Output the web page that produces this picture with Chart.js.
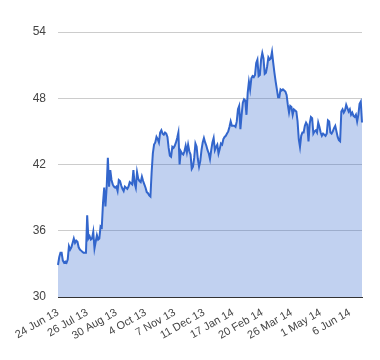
<!DOCTYPE html>
<html>
<head>
<meta charset="utf-8">
<script src="https://cdn.jsdelivr.net/npm/chart.js@4/dist/chart.umd.min.js"></script>
<style>
html,body{margin:0;padding:0;background:#fff;}
#wrap{width:380px;height:360px;}
</style>
</head>
<body>
<div id="wrap"><canvas id="c" width="380" height="360"></canvas></div>
<script>
const tickLabels = ['24 Jun 13','26 Jul 13','30 Aug 13','4 Oct 13','7 Nov 13','11 Dec 13','17 Jan 14','20 Feb 14','26 Mar 14','1 May 14','6 Jun 14'];
const tickStep = 24;
const yTicks = [30, 36, 42, 48, 54];
const values = [
32.9,33.6,34.0,34.0,33.3,33.1,33.2,33.1,33.4,34.6,
34.3,34.5,34.9,35.3,34.9,35.1,35.0,34.5,34.3,34.2,
34.1,34.0,34.0,34.0,37.4,35.3,35.5,35.2,35.3,35.9,
34.4,35.0,35.6,35.2,35.3,36.4,36.3,38.5,39.9,38.2,
39.9,42.6,40.0,41.5,40.6,40.2,40.0,39.9,40.0,39.6,
40.6,40.5,40.1,39.8,39.6,40.0,39.9,39.8,40.0,40.4,
40.3,40.2,41.5,40.3,39.9,41.3,40.7,40.5,40.4,40.9,
40.5,40.2,39.9,39.5,39.4,39.2,39.1,41.3,43.0,43.8,
44.0,44.5,44.3,44.0,44.9,45.1,44.8,44.7,44.9,44.8,
44.5,43.5,42.8,42.7,43.6,43.5,43.7,44.0,44.4,44.9,
42.0,43.2,43.0,42.9,43.2,43.7,43.1,43.8,43.2,42.9,
41.6,41.8,42.6,43.9,43.6,42.5,41.8,42.3,43.3,44.0,
44.4,44.0,43.7,43.3,43.0,42.5,43.3,44.0,44.4,43.3,
43.6,43.8,43.0,43.4,43.9,43.8,44.3,44.5,44.6,44.8,
45.0,45.4,45.9,45.5,45.5,45.5,45.4,45.9,47.0,47.3,
45.2,46.5,47.6,47.9,47.8,46.5,48.5,49.5,48.8,49.8,
50.0,49.9,50.1,51.2,51.5,50.0,50.1,51.5,52.1,51.6,
50.2,50.3,50.9,51.7,51.5,51.6,52.2,51.2,50.3,49.5,
48.8,48.1,48.1,48.8,48.7,48.8,48.7,48.6,48.3,47.4,
46.7,47.3,47.2,46.5,47.0,46.9,46.8,45.9,44.3,43.6,
44.6,44.9,44.9,45.5,45.8,45.6,44.1,45.7,46.3,46.2,
44.8,45.0,45.1,44.9,45.8,45.4,44.9,44.6,44.8,44.7,
44.6,44.8,46.0,45.9,44.9,44.8,45.0,45.3,45.5,45.0,
44.5,44.2,44.1,46.8,47.0,46.7,46.9,47.4,47.1,46.8,
47.0,46.5,46.7,46.4,46.3,46.5,45.9,46.5,47.5,47.7,
45.8
];
const categories = values.map((v, i) => (i % tickStep === 0 && tickLabels[i / tickStep]) ? tickLabels[i / tickStep] : '');

const FONT = "'Liberation Sans', Arial, sans-serif";

new Chart(document.getElementById('c'), {
  type: 'line',
  data: {
    labels: categories,
    datasets: [{
      data: values,
      borderColor: '#3366cc',
      backgroundColor: 'rgba(51,102,204,0.3)',
      borderWidth: 2,
      pointRadius: 0,
      tension: 0,
      fill: 'start'
    }]
  },
  options: {
    responsive: false,
    animation: false,
    devicePixelRatio: 1,
    layout: { padding: { left: 0, right: 18, top: 32, bottom: 0 } },
    plugins: { legend: { display: false }, tooltip: { enabled: false } },
    scales: {
      x: {
        type: 'category',
        offset: false,
        grid: { display: false, drawTicks: false },
        border: { display: true, color: '#333333', width: 1 },
        ticks: {
          autoSkip: false,
          minRotation: 30,
          maxRotation: 30,
          padding: 9,
          color: '#444444',
          font: { family: FONT, size: 11 },
          callback: function(val, idx) { return categories[idx]; }
        },
        afterFit: function(s) { s.height = 63; }
      },
      y: {
        min: 30,
        max: 54,
        afterBuildTicks: function(s) { s.ticks = yTicks.map(v => ({ value: v })); },
        grid: { color: '#cccccc', drawTicks: false },
        border: { display: false },
        ticks: {
          padding: 12,
          color: '#444444',
          font: { family: FONT, size: 12 }
        },
        afterFit: function(s) { s.width = 58; }
      }
    }
  }
});
</script>
</body>
</html>
